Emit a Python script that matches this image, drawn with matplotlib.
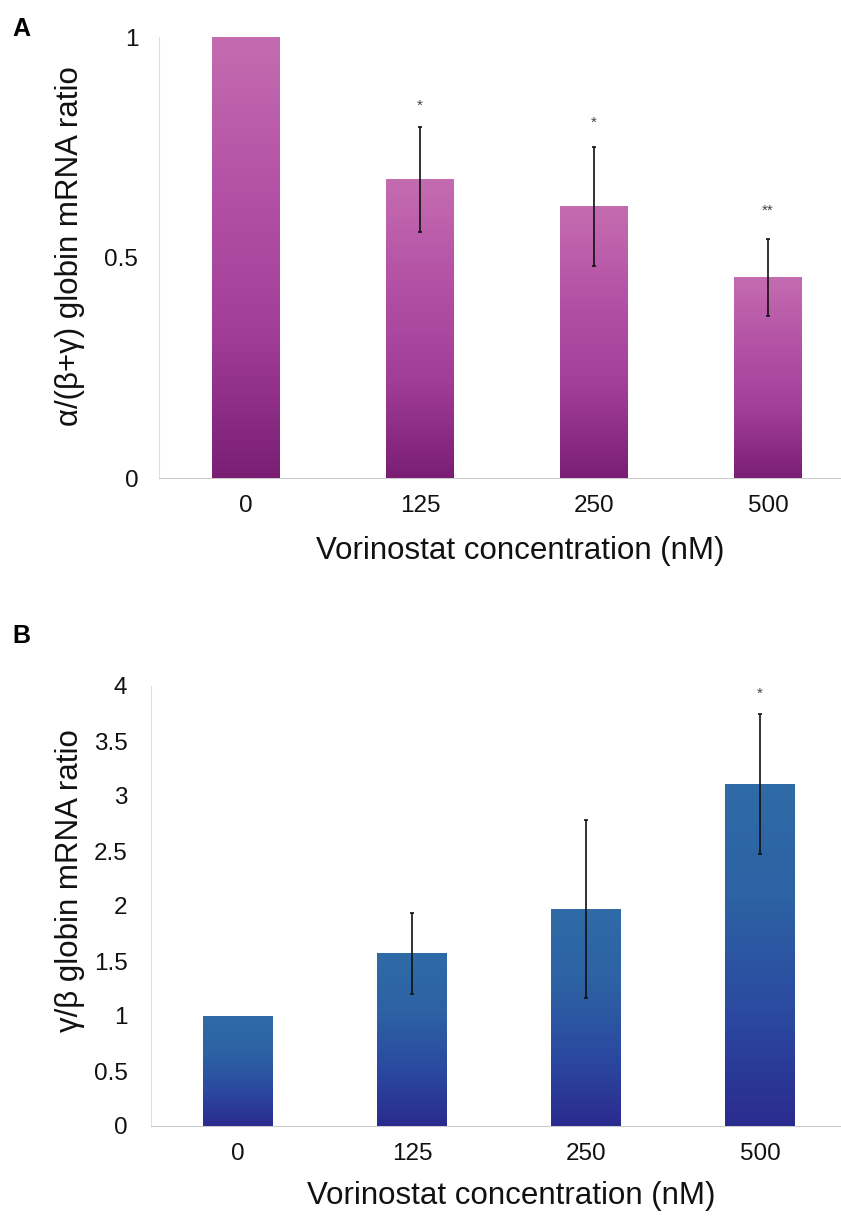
import matplotlib
matplotlib.use("Agg")
import matplotlib.pyplot as plt
import numpy as np
from matplotlib.colors import LinearSegmentedColormap

# ---- data ----
concentrations = ["0", "125", "250", "500"]
alpha_ratio = [1.0, 0.677, 0.616, 0.455]
alpha_err = [0.0, 0.119, 0.135, 0.088]
alpha_sig = ["", "*", "*", "**"]
alpha_sig_y = [0.0, 0.845, 0.805, 0.605]

gamma_ratio = [1.0, 1.57, 1.97, 3.11]
gamma_err = [0.0, 0.37, 0.81, 0.64]
gamma_sig = ["", "", "", "*"]
gamma_sig_y = [0.0, 0.0, 0.0, 3.93]

plt.rcParams['font.family'] = ['Liberation Sans', 'DejaVu Sans']

fig = plt.figure(figsize=(8.41, 12.16), dpi=100)

cmapA = LinearSegmentedColormap.from_list("a", ["#7a1e74", "#a23e98", "#b452a6", "#c46cb0"])
cmapB = LinearSegmentedColormap.from_list("b", ["#2a2b8e", "#2b4aa0", "#2d62a4", "#2f6ba6"])


def panel(rect, vals, errs, sigs, sig_y, ymax, yticks, yticklabels, ylabel, cmap, letter,
          letter_xy, width, xlab_x, ylab_xy, ypad):
    ax = fig.add_axes(rect)
    x = np.arange(len(vals))
    bars = ax.bar(x, vals, width=width, color=cmap(0.5), zorder=2, linewidth=0)
    grad = np.linspace(0, 1, 256).reshape(-1, 1)
    for b in bars:
        bx, by = b.get_x(), b.get_y()
        bw, bh = b.get_width(), b.get_height()
        im = ax.imshow(grad, extent=[bx, bx + bw, by, by + bh], origin='lower',
                       aspect='auto', cmap=cmap, zorder=3)
        im.set_clip_path(b)
    for xi, v, e in zip(x, vals, errs):
        if e > 0:
            ax.errorbar(xi, v, yerr=e, fmt='none', ecolor='#111111', elinewidth=1.2,
                        capsize=1.5, capthick=1.2, zorder=4)
    for xi, s, sy in zip(x, sigs, sig_y):
        if s:
            ax.text(xi, sy, s, ha='center', va='center', fontsize=11, color='#444444', zorder=5)
    ax.set_xlim(-0.5, 3.5)
    ax.set_ylim(0, ymax)
    ax.set_xticks(x)
    ax.set_xticklabels(concentrations)
    ax.set_yticks(yticks)
    ax.set_yticklabels(yticklabels)
    ax.tick_params(axis='both', length=0, labelsize=17.5, colors='#111111')
    ax.tick_params(axis='x', pad=12)
    ax.tick_params(axis='y', pad=ypad)
    for s in ['top', 'right']:
        ax.spines[s].set_visible(False)
    ax.spines['left'].set_color('#dddddd')
    ax.spines['bottom'].set_color('#cccccc')
    ax.set_xlabel("Vorinostat concentration (nM)", fontsize=22.5, color='#111111', va='center')
    ax.xaxis.set_label_coords(xlab_x, -0.165 if ymax == 1.0 else -0.16)
    ax.set_ylabel(ylabel, fontsize=22.5, color='#111111', va='center')
    ax.yaxis.set_label_coords(*ylab_xy)
    fig.text(letter_xy[0], letter_xy[1], letter, fontsize=18, fontweight='bold',
             ha='left', va='center')
    return ax


axA = panel([159 / 841, 1 - 478 / 1216, 696 / 841, 441 / 1216], alpha_ratio, alpha_err, alpha_sig,
            alpha_sig_y, 1.0, [0, 0.5, 1], ["0", "0.5", "1"], "α/(β+γ) globin mRNA ratio", cmapA, "A",
            (12 / 841, 1 - 29 / 1216), 0.39, (520 - 159) / 696, ((70 - 159) / 696, 0.526), 15)
axB = panel([151 / 841, 1 - 1126 / 1216, 696 / 841, 440 / 1216], gamma_ratio, gamma_err, gamma_sig,
            gamma_sig_y, 4.0, [0, 0.5, 1, 1.5, 2, 2.5, 3, 3.5, 4],
            ["0", "0.5", "1", "1.5", "2", "2.5", "3", "3.5", "4"],
            "γ/β globin mRNA ratio", cmapB, "B", (12 / 841, 1 - 636 / 1216), 0.40,
            (511 - 151) / 696, ((70 - 151) / 696, 0.557), 17)

fig.savefig("out.png", dpi=100)
